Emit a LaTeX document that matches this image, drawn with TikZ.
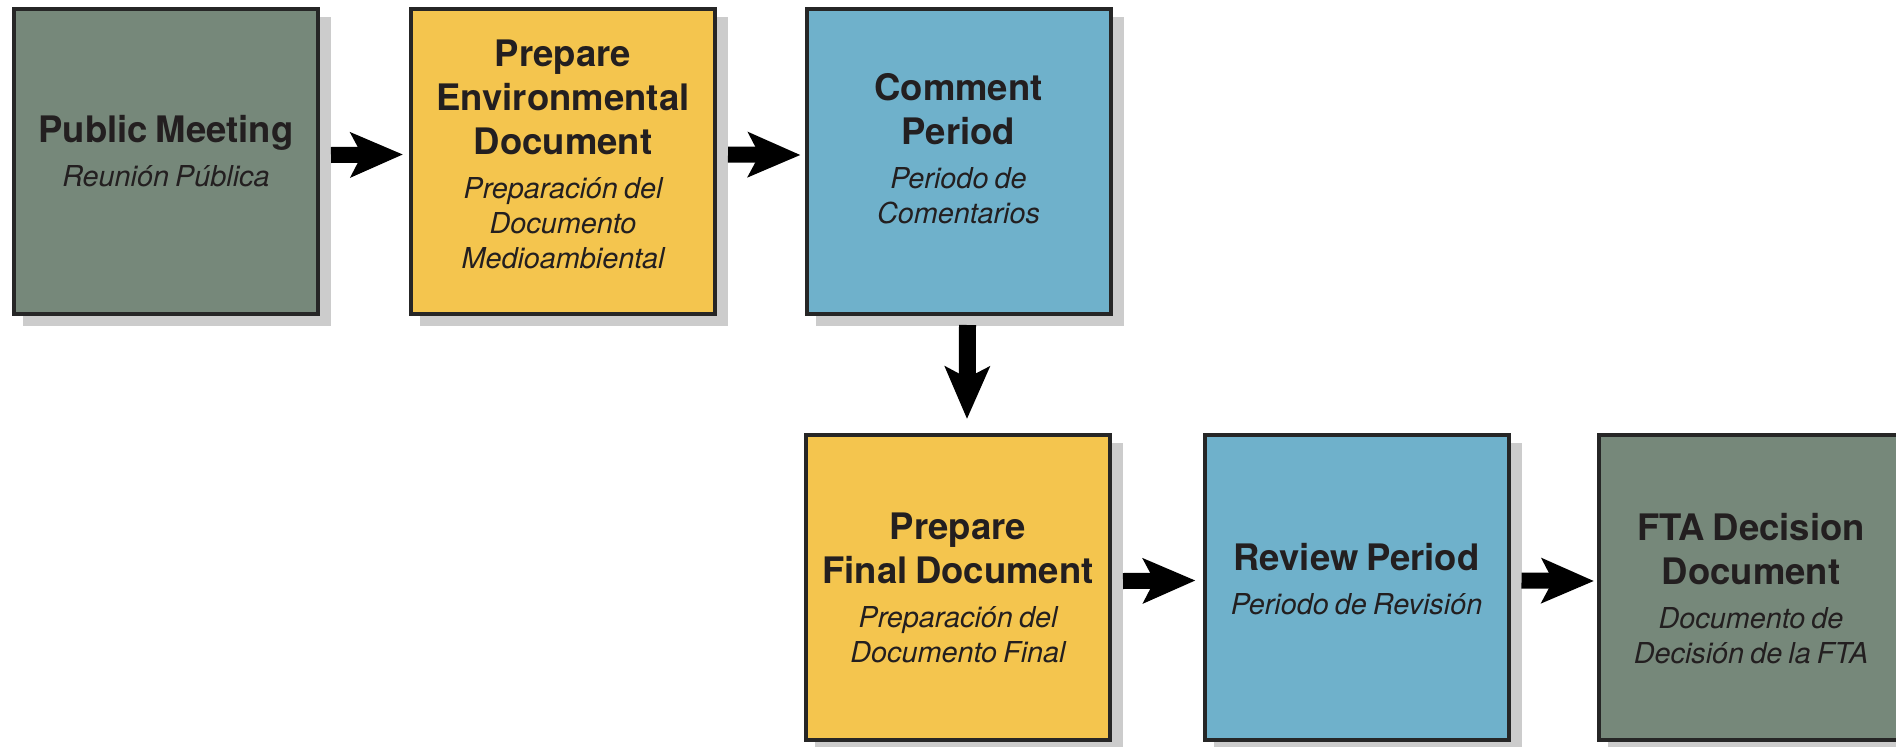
\documentclass[tikz,border=0pt]{standalone}
\usepackage{fontspec}
\setmainfont{TeX Gyre Heros}
\usetikzlibrary{arrows.meta,backgrounds}
\definecolor{sage}{HTML}{76887A}
\definecolor{gold}{HTML}{F4C54E}
\definecolor{sky}{HTML}{6FB1CB}
\definecolor{edgec}{HTML}{262626}
\definecolor{shadec}{HTML}{CCCCCC}
\definecolor{ink}{HTML}{231F20}
\newcommand\ttltx[1]{{\fontsize{36.5}{44}\selectfont\bfseries\spaceskip=0.21em\xspaceskip=0.21em #1\par}}
\newcommand\subtx[1]{{\fontsize{28.8}{35}\selectfont\itshape\spaceskip=0.21em\xspaceskip=0.21em #1\par}}
\tikzset{
  stagebox/.style={draw=edgec, line width=4pt, minimum width=304pt, minimum height=305pt, inner sep=0pt, outer sep=2pt},
  boxtext/.style={text width=300pt, align=center, inner sep=0pt, outer sep=0pt, text=ink},
  flow/.style={line width=16pt, black, -{Stealth[length=52pt,width=44pt,inset=11pt]}},
  boxshadow/.style={fill=shadec},
}
\begin{document}
\begin{tikzpicture}[x=1pt,y=-1pt]
\useasboundingbox (0,0) rectangle (1896,747);
\clip (0,0) rectangle (1896,747);
% boxes
\node[stagebox, fill=sage] (b1) at (166,161.5) {};
\node[stagebox, fill=gold] (b2) at (563,161) {};
\node[stagebox, fill=sky]  (b3) at (958.5,161.5) {};
\node[stagebox, fill=gold] (b4) at (958,587.5) {};
\node[stagebox, fill=sky]  (b5) at (1356.5,587) {};
\node[stagebox, fill=sage] (b6) at (1751,587.5) {};
% shadows
\begin{scope}[on background layer]
\foreach \b in {b1,b2,b3,b4,b5,b6}{
  \fill[boxshadow] ([shift={(11pt,-10pt)}]\b.north west) rectangle ([shift={(11pt,-10pt)}]\b.south east);
}
\end{scope}
% texts
\node[boxtext, yshift=10.5pt] (t1) at (b1) {\ttltx{Public Meeting}\vspace{9pt}\subtx{Reunión Pública}};
\node[boxtext, yshift=7pt] (t2) at (b2) {\ttltx{Prepare\\Environmental\\Document}\vspace{9pt}\subtx{Preparación del\\Documento\\Medioambiental}};
\node[boxtext, yshift=13pt] (t3) at (b3) {\ttltx{Comment\\Period}\vspace{9pt}\subtx{Periodo de\\Comentarios}};
\node[boxtext, yshift=0pt] (t4) at (b4) {\ttltx{Prepare\\Final Document}\vspace{9pt}\subtx{Preparación del\\Documento Final}};
\node[boxtext, yshift=8pt] (t5) at (b5) {\ttltx{Review Period}\vspace{9pt}\subtx{Periodo de Revisión}};
\node[boxtext, yshift=-1pt] (t6) at (b6) {\ttltx{FTA Decision\\Document}\vspace{9pt}\subtx{Documento de\\Decisión de la FTA}};
% arrows
\draw[flow] ([shift={(11pt,6.5pt)}]b1.east) -- ([shift={(-6pt,6.5pt)}]b2.west);
\draw[flow] ([shift={(11pt,6.5pt)}]b2.east) -- ([shift={(-4pt,6.5pt)}]b3.west);
\draw[flow, line width=17pt] ([shift={(9pt,-9pt)}]b3.south) -- ([shift={(9pt,14pt)}]b4.north);
\draw[flow] ([shift={(11pt,6.5pt)}]b4.east) -- ([shift={(-7pt,6.5pt)}]b5.west);
\draw[flow] ([shift={(11pt,6.5pt)}]b5.east) -- ([shift={(-3pt,6.5pt)}]b6.west);
\end{tikzpicture}
\end{document}
